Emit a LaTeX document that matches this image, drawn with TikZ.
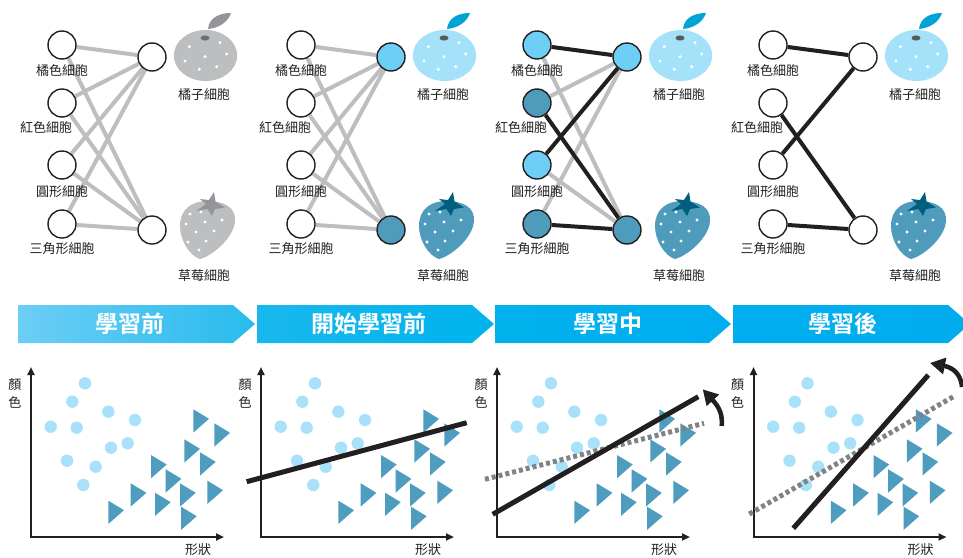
\documentclass[tikz,border=0pt]{standalone}
\usepackage{fontspec}
\newfontfamily\cjk{Noto Sans CJK TC}[BoldFont={Noto Sans CJK TC Bold}]
\usetikzlibrary{arrows.meta}

\definecolor{ink}{HTML}{231F20}
\definecolor{edgegray}{HTML}{BCBEC0}
\definecolor{celllight}{HTML}{6DCFF6}
\definecolor{celldark}{HTML}{4E9BBC}
\definecolor{dotblue}{HTML}{A8E1F9}
\definecolor{trianglet}{HTML}{4F9DBE}
\definecolor{orangebody}{HTML}{A6E1FA}
\definecolor{leafblue}{HTML}{00A3D6}
\definecolor{stemdark}{HTML}{58595B}
\definecolor{berryblue}{HTML}{4F9BBB}
\definecolor{calyxblue}{HTML}{005F7F}
\definecolor{fruitgray}{HTML}{BCBEC0}
\definecolor{leafgray}{HTML}{939598}
\definecolor{stemgray}{HTML}{6D6E71}
\definecolor{dashgray}{HTML}{808285}

\pgfdeclarelayer{bg}
\pgfsetlayers{bg,main}

% orange: body, leaf, stem
\newcommand\orangefruit[3]{%
  \fill[#2] (208,29) .. controls (209,18) and (219,13) .. (231,13) .. controls (228,22) and (219,28) .. (208,29) -- cycle;
  \fill[#1] (205.5,55.5) ellipse [x radius=31.7pt, y radius=25.5pt];
  \fill[#3] (205,38) ellipse [x radius=4.5pt, y radius=2.6pt];
  \foreach \dx/\dy in {-16.2/-8.8, 14.5/-12.8, -20.5/5.5, -0.5/1.2, 21.2/-1.5, -6.2/13.8, 11.2/11.2}
    \fill[white] ({205.5+(\dx)},{55.5+(\dy)}) circle [radius=1.7pt];
}

% strawberry: body, calyx
\newcommand\berry[2]{%
  \fill[#1] (200,259) .. controls (190,256) and (180,241) .. (180,226)
    .. controls (180,209) and (192,201) .. (207,201)
    .. controls (225,201) and (236,208) .. (235,221)
    .. controls (234,238) and (212,256) .. (200,259) -- cycle;
  \fill[#2] (214,192) -- (215.5,201.5) -- (225,207.5) -- (215,209) -- (212,216)
    -- (207.5,209) -- (196,211) -- (206,204) -- (200,199) -- (209,200) -- cycle;
  \foreach \px/\py in {190/214, 201/212, 186/224, 205/222, 222/220, 196/232, 214/231, 188/242, 206/241, 199/250}
    \fill[white] (\px,\py) circle [radius=1.6pt];
}

% network nodes and labels: id, fills of l1 l2 l3 l4 r1 r2
\newcommand\netpanel[7]{%
  \node[cell,fill=#2] (#1l1) at (62,45) {};
  \node[cell,fill=#3] (#1l2) at (62,103) {};
  \node[cell,fill=#4] (#1l3) at (62,165) {};
  \node[cell,fill=#5] (#1l4) at (62,224) {};
  \node[cell,fill=#6] (#1r1) at (152,57) {};
  \node[cell,fill=#7] (#1r2) at (152,230) {};
  \node[lbl] (#1t1) at (62,71) {橘色細胞};
  \node[lbl] (#1t2) at (46,128) {紅色細胞};
  \node[lbl] (#1t3) at (62,192) {圓形細胞};
  \node[lbl] (#1t4) at (62,249) {三角形細胞};
  \node[lbl] (#1f1) at (204,95) {橘子細胞};
  \node[lbl] (#1f2) at (204,276) {草莓細胞};
}

% scatter plot with axes
\newcommand\scatterpanel[1]{%
  \coordinate (o#1) at (31,537);
  \coordinate (ya#1) at (31,367);
  \coordinate (xa#1) at (224,537);
  \foreach \cx/\cy in {85/383.3, 72.3/401.7, 108.3/411.7, 135/420, 50.7/426.7, 76.7/427.7,
                       111/447.7, 127.7/443.3, 67/460.7, 95.7/466.7, 83.3/485}
    \fill[dotblue] (\cx,\cy) circle [radius=6.2pt];
  \foreach \tx/\ty in {193.3/409.3, 214.3/423.3, 184.3/439.3, 200/452.3, 151/455, 165.7/469.3,
                       130.7/483.3, 155/492.7, 180/483.3, 207.3/480.7, 108.3/500.7, 181/506.7}
    \fill[trianglet] (\tx,\ty) -- ++(0,23.3) -- ++(15.7,-13.8) -- cycle;
  \draw[axis] (xa#1) -- (o#1) -- (ya#1);
  \node[lbl] (yl#1) at (15,385) {顏};
  \node[lbl] (yr#1) at (15,402) {色};
  \node[lbl] (xl#1) at (198,550) {形狀};
}

\begin{document}
\begin{tikzpicture}[x=1pt,y=-1pt,
  cell/.style={circle, draw=ink, line width=1.4pt, minimum size=28pt, inner sep=0pt},
  lbl/.style={font=\cjk\fontsize{13}{13}\selectfont, text=ink, inner sep=0pt},
  banner/.style={font=\cjk\bfseries\fontsize{23}{23}\selectfont, text=white, inner sep=0pt},
  weak/.style={draw=edgegray, line width=4pt},
  strong/.style={draw=ink, line width=4pt},
  axis/.style={draw=ink, line width=2pt, {Triangle[length=8pt,width=7pt]}-{Triangle[length=8pt,width=7pt]}},
  boundary/.style={draw=ink, line width=5pt},
  oldboundary/.style={draw=dashgray, line width=5pt, dash pattern=on 4pt off 3pt},
  turn/.style={draw=ink, line width=4.5pt, -{Triangle[length=15pt,width=16pt]}}]
\useasboundingbox (0,0) rectangle (963,557);
\clip (0,0) rectangle (963,557);

% ---------- networks ----------
\begin{scope}
  \netpanel{a}{white}{white}{white}{white}{white}{white}
  \begin{pgfonlayer}{bg}
    \foreach \l in {1,2,3,4} \foreach \r in {1,2} \draw[weak] (al\l) -- (ar\r);
  \end{pgfonlayer}
  \orangefruit{fruitgray}{leafgray}{stemgray}
  \berry{fruitgray}{leafgray}
\end{scope}

\begin{scope}[xshift=239pt]
  \netpanel{b}{white}{white}{white}{white}{celllight}{celldark}
  \begin{pgfonlayer}{bg}
    \foreach \l in {1,2,3,4} \foreach \r in {1,2} \draw[weak] (bl\l) -- (br\r);
  \end{pgfonlayer}
  \orangefruit{orangebody}{leafblue}{stemdark}
  \berry{berryblue}{calyxblue}
\end{scope}

\begin{scope}[xshift=475pt]
  \netpanel{c}{celllight}{celldark}{celllight}{celldark}{celllight}{celldark}
  \begin{pgfonlayer}{bg}
    \draw[weak] (cl1) -- (cr2);
    \draw[weak] (cl2) -- (cr1);
    \draw[weak] (cl3) -- (cr2);
    \draw[weak] (cl4) -- (cr1);
    \draw[strong] (cl1) -- (cr1);
    \draw[strong] (cl3) -- (cr1);
    \draw[strong] (cl2) -- (cr2);
    \draw[strong] (cl4) -- (cr2);
  \end{pgfonlayer}
  \orangefruit{orangebody}{leafblue}{stemdark}
  \berry{berryblue}{calyxblue}
\end{scope}

\begin{scope}[xshift=711pt]
  \netpanel{d}{white}{white}{white}{white}{white}{white}
  \begin{pgfonlayer}{bg}
    \draw[strong] (dl1) -- (dr1);
    \draw[strong] (dl3) -- (dr1);
    \draw[strong] (dl2) -- (dr2);
    \draw[strong] (dl4) -- (dr2);
  \end{pgfonlayer}
  \orangefruit{orangebody}{leafblue}{stemdark}
  \berry{berryblue}{calyxblue}
\end{scope}

% ---------- stage banner ----------
\shade[left color={rgb,255:red,108;green,206;blue,245}, right color={rgb,255:red,40;green,187;blue,238}]
  (18,305) -- (233,305) -- (255,324) -- (233,343) -- (18,343) -- cycle;
\shade[left color={rgb,255:red,24;green,184;blue,238}, right color={rgb,255:red,0;green,179;blue,236}]
  (257,305) -- (472,305) -- (494,324) -- (472,343) -- (257,343) -- cycle;
\shade[left color={rgb,255:red,0;green,177;blue,236}, right color={rgb,255:red,0;green,174;blue,239}]
  (495,305) -- (709,305) -- (731,324) -- (709,343) -- (495,343) -- cycle;
\shade[left color={rgb,255:red,0;green,174;blue,239}, right color={rgb,255:red,0;green,172;blue,236}]
  (733,305) -- (948,305) -- (970,324) -- (948,343) -- (733,343) -- cycle;
\node[banner] (s1) at (130,324) {學習前};
\node[banner] (s2) at (369,324) {開始學習前};
\node[banner] (s3) at (608,324) {學習中};
\node[banner] (s4) at (843,324) {學習後};

% ---------- scatter plots ----------
\begin{scope}
  \scatterpanel{p}
\end{scope}

\begin{scope}[xshift=230pt]
  \scatterpanel{q}
  \coordinate (qa) at (16.7,481.7);
  \coordinate (qb) at (236.7,422.7);
  \draw[boundary] (qa) -- (qb);
\end{scope}

\begin{scope}[xshift=466pt]
  \scatterpanel{r}
  \coordinate (ra) at (19,479.3);
  \coordinate (rb) at (238,423.3);
  \coordinate (rc) at (26.7,514.3);
  \coordinate (rd) at (232.3,396.7);
  \coordinate (re) at (255.7,426);
  \coordinate (rf) at (236.7,389.3);
  \draw[oldboundary] (ra) -- (rb);
  \draw[boundary] (rc) -- (rd);
  \draw[turn] (re) .. controls (256.5,415) and (254,408) .. (rf);
\end{scope}

\begin{scope}[xshift=722.5pt]
  \scatterpanel{s}
  \coordinate (sa) at (26.8,514);
  \coordinate (sb) at (230.8,396.7);
  \coordinate (sc) at (70.8,528.3);
  \coordinate (sd) at (205.8,375);
  \coordinate (se) at (239.5,387);
  \coordinate (sf) at (207.5,363);
  \draw[oldboundary] (sa) -- (sb);
  \draw[boundary] (sc) -- (sd);
  \draw[turn] (se) .. controls (238.5,376) and (232.5,368) .. (sf);
\end{scope}
\end{tikzpicture}
\end{document}
